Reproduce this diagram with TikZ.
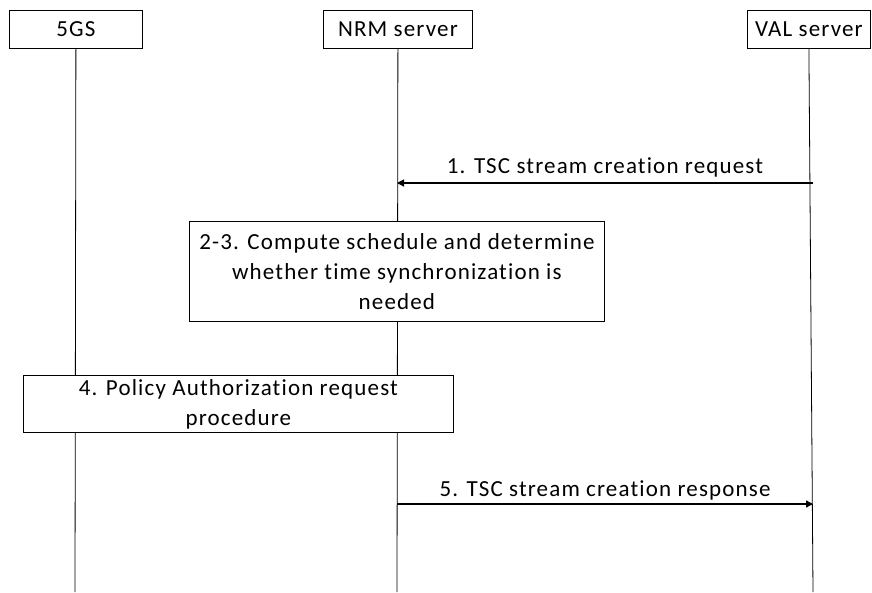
\documentclass[tikz,border=0pt]{standalone}
\usepackage{fontspec}
\setmainfont{Carlito}[LetterSpace=5,Ligatures={NoCommon,NoDiscretionary,NoContextual}]
\usetikzlibrary{arrows.meta}
\begin{document}
\begin{tikzpicture}[x=1pt,y=-1pt,
  ent/.style={draw,line width=0.8pt,minimum height=38pt,inner sep=0pt,anchor=north west,font=\fontsize{23}{28}\selectfont},
  proc/.style={draw,line width=0.8pt,inner sep=0pt,anchor=north west,align=center,font=\fontsize{23}{30}\selectfont},
  life/.style={line width=0.8pt},
  msg/.style={line width=1.3pt,-{Triangle[length=7pt,width=7pt]}},
  lbl/.style={font=\fontsize{23}{28}\selectfont,anchor=base,inner sep=0pt}]
\useasboundingbox (0,0) rectangle (872,592);
\node[ent,minimum width=133pt] (g) at (9,10) {5GS};
\node[ent,minimum width=149pt] (n) at (323,10) {NRM server};
\node[ent,minimum width=123pt] (v) at (747,10) {VAL server};
\coordinate (gb) at (75,592);
\coordinate (nb) at (397,592);
\coordinate (vb) at (813,592);
\draw[life] (g.south) -- (gb);
\draw[life] (n.south) -- (nb);
\draw[life] (v.south) -- (vb);
\coordinate (v1) at (813,183);
\coordinate (n1) at (397,183);
\draw[msg] (v1) -- node[lbl,yshift=10pt] {1. TSC stream creation request} (n1);
\node[proc,fill=white,minimum width=415pt,minimum height=100pt] (p23) at (189,221) {2-3. Compute schedule and determine\\whether time synchronization is\\needed};
\node[proc,fill=white,minimum width=430pt,minimum height=57pt] (p4) at (23,375) {4. Policy Authorization request\\procedure};
\coordinate (n5) at (397,504);
\coordinate (v5) at (813,504);
\draw[msg] (n5) -- node[lbl,yshift=8pt] {5. TSC stream creation response} (v5);
\end{tikzpicture}
\end{document}
